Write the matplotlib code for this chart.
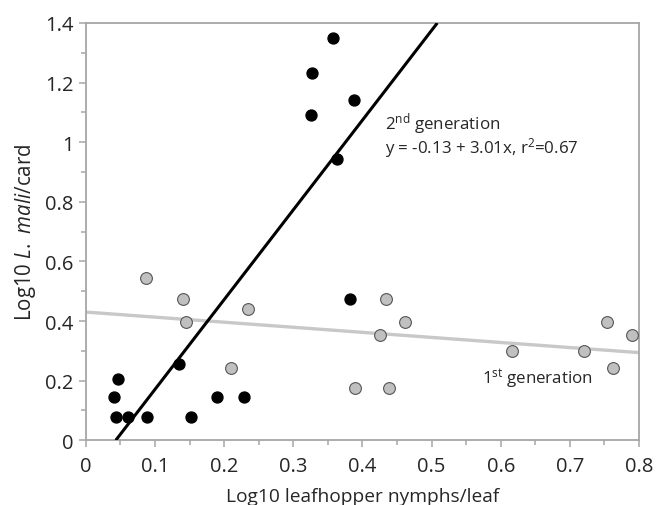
import matplotlib
matplotlib.use("Agg")
import matplotlib.pyplot as plt
import numpy as np

plt.rcParams['font.family'] = ['Open Sans', 'DejaVu Sans']
plt.rcParams['mathtext.fontset'] = 'custom'
plt.rcParams['mathtext.rm'] = 'Open Sans'
plt.rcParams['mathtext.it'] = 'Open Sans:italic'

# 1st generation (grey)
gen1_x = [0.087, 0.140, 0.145, 0.235, 0.210, 0.389, 0.434, 0.462, 0.426, 0.438,
          0.617, 0.720, 0.754, 0.790, 0.763]
gen1_y = [0.543, 0.475, 0.398, 0.439, 0.244, 0.176, 0.475, 0.398, 0.352, 0.176,
          0.301, 0.301, 0.398, 0.352, 0.244]

# 2nd generation (black)
gen2_x = [0.357, 0.327, 0.388, 0.325, 0.363, 0.382, 0.134, 0.046, 0.040, 0.043,
          0.061, 0.088, 0.152, 0.190, 0.228]
gen2_y = [1.349, 1.231, 1.141, 1.092, 0.944, 0.475, 0.255, 0.204, 0.146, 0.078,
          0.078, 0.078, 0.078, 0.146, 0.146]

# regression fits (intercept, slope)
gen1_fit = (0.43, -0.17)
gen2_fit = (-0.13, 3.01)

fig = plt.figure(figsize=(6.56, 5.06), dpi=100)
ax = fig.add_axes([0.131, 0.128, 0.843, 0.8246])

xs = np.linspace(0, 0.8, 200)
ax.plot(xs, gen1_fit[0] + gen1_fit[1] * xs, color='#c8c8c8', lw=2.4, zorder=2)
# black line limited to the visible y range
x0 = (0 - gen2_fit[0]) / gen2_fit[1]
x1 = (1.4 - gen2_fit[0]) / gen2_fit[1]
xb = np.array([x0, x1])
ax.plot(xb, gen2_fit[0] + gen2_fit[1] * xb, color='black', lw=2.2, zorder=3,
        solid_capstyle='butt')

ax.scatter(gen1_x, gen1_y, s=72, facecolor='#c0c0c0', edgecolor='#555555',
           linewidth=0.8, zorder=4, clip_on=False)
ax.scatter(gen2_x, gen2_y, s=62, color='black', zorder=5, clip_on=False)

ax.set_xlim(0, 0.8)
ax.set_ylim(0, 1.4)
ax.set_xticks(np.arange(0, 0.81, 0.1))
ax.set_xticklabels(['0', '0.1', '0.2', '0.3', '0.4', '0.5', '0.6', '0.7', '0.8'])
ax.set_xticks(np.arange(0.05, 0.8, 0.1), minor=True)
ax.set_yticks(np.arange(0, 1.41, 0.2))
ax.set_yticklabels(['0', '0.2', '0.4', '0.6', '0.8', '1', '1.2', '1.4'])
ax.set_yticks(np.arange(0.1, 1.4, 0.2), minor=True)

for s in ax.spines.values():
    s.set_color('#a6a6a6')
    s.set_linewidth(1.3)
ax.tick_params(which='major', length=5, width=1.1, color='#a6a6a6',
               labelsize=14.5, labelcolor='#262626')
ax.tick_params(axis='x', which='major', pad=6)
ax.tick_params(axis='y', which='major', pad=4)
ax.tick_params(which='minor', length=3.5, width=1.1, color='#a6a6a6')

ax.set_xlabel('Log10 leafhopper nymphs/leaf', fontsize=13.8, color='#262626',
              labelpad=8)
ax.set_ylabel(r'Log10 $\mathit{L.\ mali}$/card', fontsize=14.8, color='#262626',
              labelpad=5)

# fit annotations
ax.text(0.433, 1.025,
        '2$^{\\mathrm{nd}}$ generation\ny = -0.13 + 3.01x, r$^{2}$=0.67',
        fontsize=12.2, color='#262626', va='center', ha='left',
        linespacing=0.98)
ax.text(0.573, 0.208, r'1$^{\mathrm{st}}$ generation', fontsize=12.2,
        color='#262626', va='center', ha='left')

fig.savefig('out.png', dpi=100)
